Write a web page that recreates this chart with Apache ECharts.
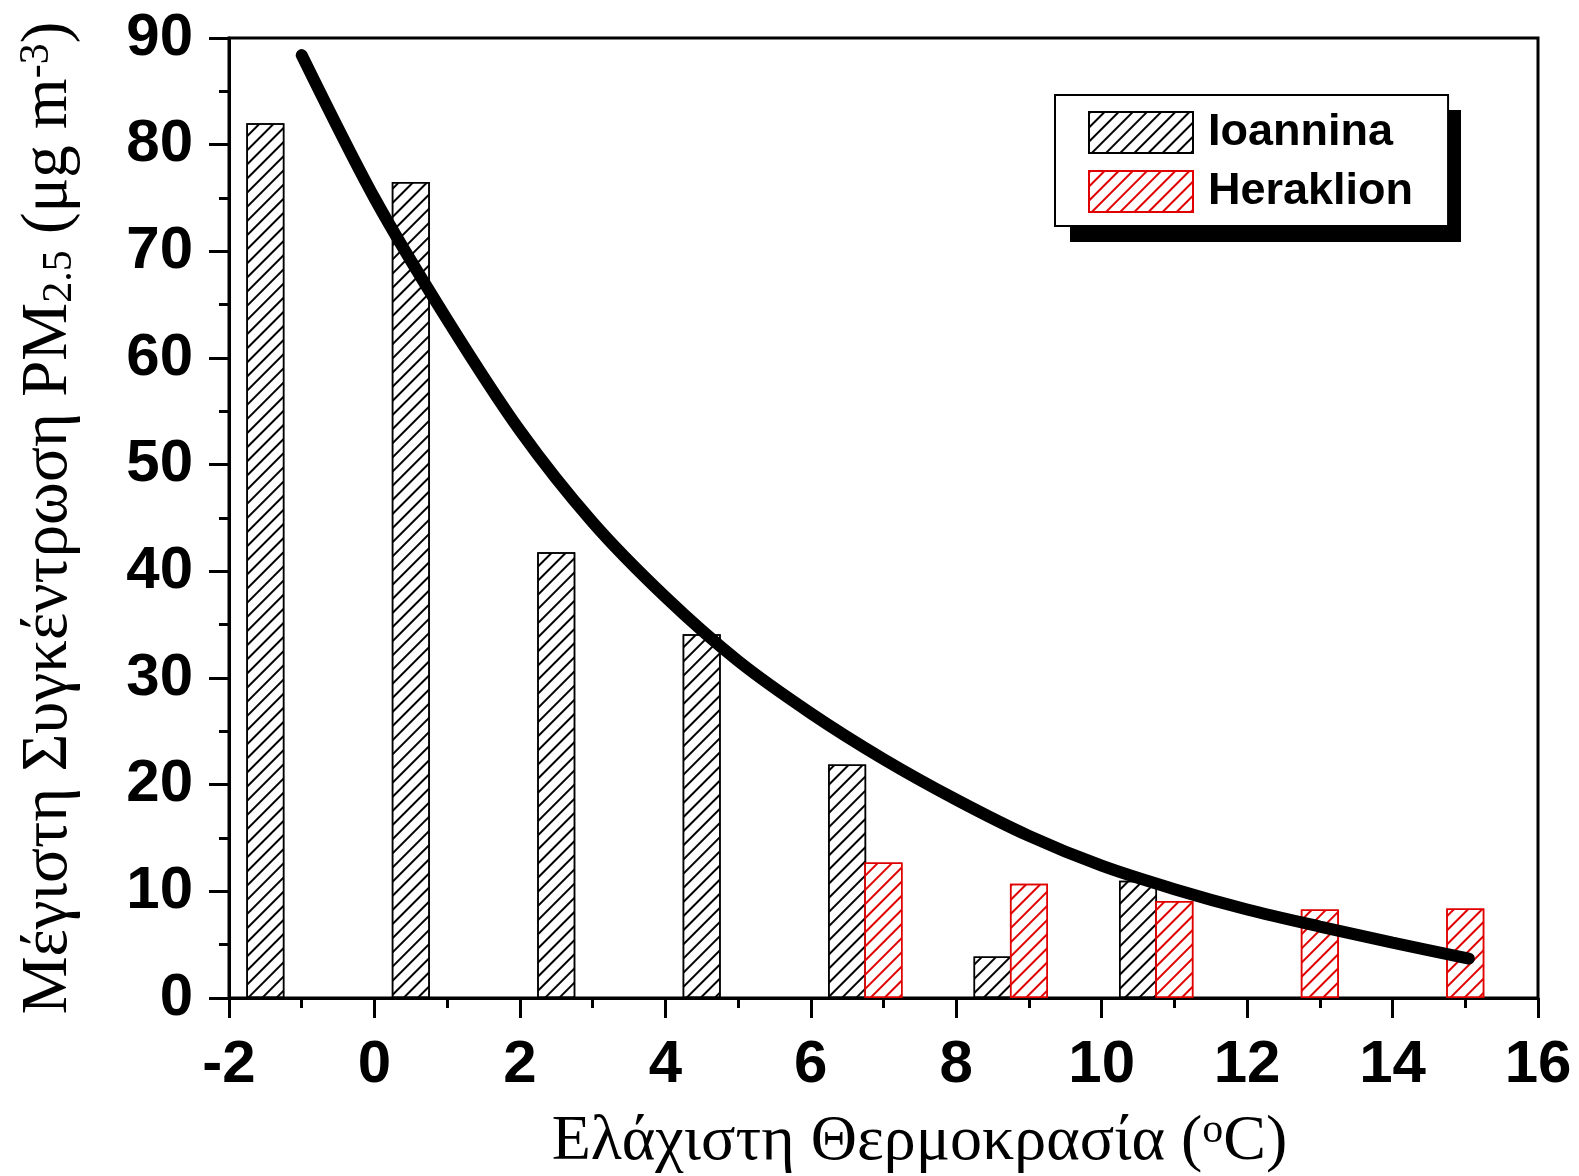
<!DOCTYPE html>
<html>
<head>
<meta charset="utf-8">
<script src="https://cdn.jsdelivr.net/npm/echarts@6/dist/echarts.min.js"></script>
<style>
html,body{margin:0;padding:0;background:#fff;}
#main{width:1579px;height:1176px;}
</style>
</head>
<body>
<div id="main"></div>
<script>
// ---- data ----
const ioanninaX = [-1.5, 0.5, 2.5, 4.5, 6.5, 8.5, 10.5];
const ioanninaY = [82.0, 76.5, 41.8, 34.1, 21.9, 3.9, 11.0];
const heraklionX = [7, 9, 11, 13, 15];
const heraklionY = [12.7, 10.7, 9.1, 8.3, 8.4];
const curveX = [-1, 0, 1, 2, 3, 4, 5, 6, 7, 8, 9, 10, 11, 12, 13, 14, 15.05];
const curveY = [88.4, 75.0, 63.6, 53.2, 44.6, 37.6, 31.6, 26.7, 22.4, 18.6, 15.2, 12.4, 10.2, 8.3, 6.7, 5.2, 3.7];
const seriesNames = ['Ioannina', 'Heraklion'];
const xTitle = 'Ελάχιστη Θερμοκρασία ({sup|o}C)';
const yTitle = 'Μέγιστη Συγκέντρωση PM{sub|2.5} (μg m{sup|-3})';

const zip = (xs, ys) => xs.map((x, i) => [x, ys[i]]);

const sansBold = {fontFamily: 'Liberation Sans', fontWeight: 'bold', fontSize: 60, color: '#000'};
const serifRich = {
  sup: {fontFamily: 'Liberation Serif', fontSize: 42, color: '#000', verticalAlign: 'top', lineHeight: 24},
  sub: {fontFamily: 'Liberation Serif', fontSize: 42, color: '#000', verticalAlign: 'bottom', lineHeight: 24}
};

function hatch(color) {
  return {
    symbol: 'rect', symbolSize: 1,
    dashArrayX: [1, 0], dashArrayY: [1.3, 8],
    rotation: -Math.PI / 4, color: color
  };
}

const chart = echarts.init(document.getElementById('main'), null, {renderer: 'canvas'});
chart.setOption({
  backgroundColor: '#fff',
  animation: false,
  grid: {left: 229, right: 41, top: 38, bottom: 178, show: true, borderColor: '#000', borderWidth: 3,
         backgroundColor: 'transparent', outerBoundsMode: 'none', containLabel: false},
  graphic: [{
    type: 'rect', z: 1,
    shape: {x: 1070, y: 110, width: 391, height: 132},
    style: {fill: '#000'}
  }],
  legend: {
    data: seriesNames,
    orient: 'vertical',
    left: 1055, top: 95, z: 10,
    itemWidth: 104, itemHeight: 41, itemGap: 14,
    padding: [15, 35, 12, 33],
    backgroundColor: '#fff',
    borderColor: '#000', borderWidth: 2,
    icon: 'rect',
    textStyle: {fontFamily: 'Liberation Sans', fontWeight: 'bold', fontSize: 45, color: '#000', padding: [0, 0, 0, 10]}
  },
  xAxis: {
    type: 'value', min: -2, max: 16, interval: 2,
    axisLine: {show: true, onZero: false, lineStyle: {color: '#000', width: 3}},
    axisTick: {show: true, inside: false, length: 20, lineStyle: {color: '#000', width: 3}},
    minorTick: {show: true, splitNumber: 2, length: 10, lineStyle: {color: '#000', width: 3}},
    splitLine: {show: false},
    axisLabel: Object.assign({margin: 37}, sansBold),
    name: xTitle,
    nameLocation: 'middle',
    nameGap: 112,
    nameTextStyle: {fontFamily: 'Liberation Serif', fontSize: 64, color: '#000', padding: [0, 0, 0, 72], rich: serifRich}
  },
  yAxis: {
    type: 'value', min: 0, max: 90, interval: 10,
    axisLine: {show: true, onZero: false, lineStyle: {color: '#000', width: 3}},
    axisTick: {show: true, inside: false, length: 20, lineStyle: {color: '#000', width: 3}},
    minorTick: {show: true, splitNumber: 2, length: 10, lineStyle: {color: '#000', width: 3}},
    splitLine: {show: false},
    axisLabel: Object.assign({margin: 36}, sansBold),
    name: yTitle,
    nameLocation: 'middle',
    nameRotate: 90,
    nameGap: 148,
    nameTextStyle: {fontFamily: 'Liberation Serif', fontSize: 65, color: '#000', rich: serifRich}
  },
  series: [
    {
      name: seriesNames[0], type: 'bar', barWidth: 38, barGap: '-100%',
      data: zip(ioanninaX, ioanninaY),
      itemStyle: {color: '#fff', borderColor: '#000', borderWidth: 1.5, decal: hatch('#000')},
      z: 2
    },
    {
      name: seriesNames[1], type: 'bar', barWidth: 38, barGap: '-100%',
      data: zip(heraklionX, heraklionY),
      itemStyle: {color: '#fff', borderColor: '#e00000', borderWidth: 1.5, decal: hatch('#e00000')},
      z: 2
    },
    {
      name: 'fit', type: 'line', smooth: 0.3, symbol: 'none',
      data: zip(curveX, curveY),
      lineStyle: {color: '#000', width: 12, cap: 'round'},
      z: 5
    }
  ]
});
</script>
</body>
</html>
